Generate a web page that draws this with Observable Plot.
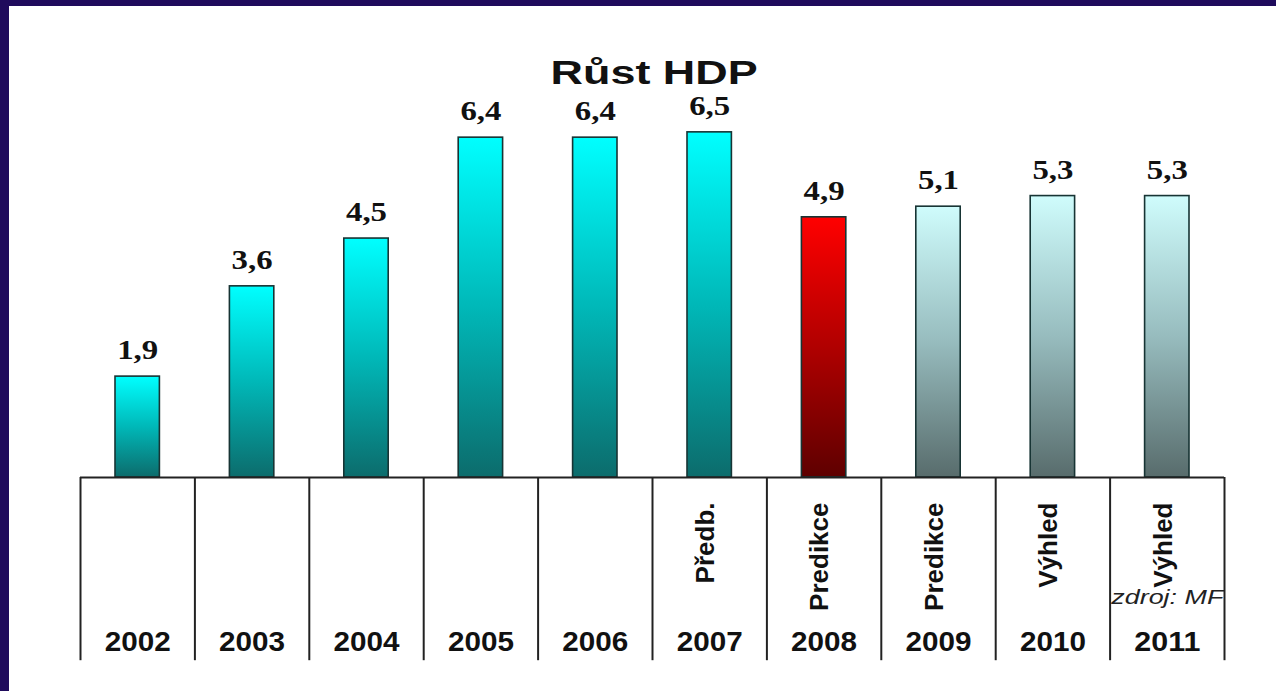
<!DOCTYPE html>
<html>
<head>
<meta charset="utf-8">
<script src="https://cdn.jsdelivr.net/npm/d3@7"></script>
<script src="https://cdn.jsdelivr.net/npm/@observablehq/plot@0.6"></script>
<style>
  html, body { margin: 0; padding: 0; }
  body { width: 1276px; height: 691px; background: #1f0b5c; overflow: hidden; position: relative; }
  #panel { position: absolute; left: 9px; top: 6px; width: 1267px; height: 685px; background: #ffffff; overflow: hidden; }
  #title { position: absolute; top: 50px; left: 0; width: 100%; box-sizing: border-box; padding-left: 24px;
           text-align: center; font: bold 33px "Liberation Sans", Arial, sans-serif; line-height: 33px; color: #111; }
  #title span { display: inline-block; transform: scaleX(1.36); }
  #chart { position: absolute; top: 90px; left: 0; }
</style>
</head>
<body>
<div id="panel">
  <div id="title"><span></span></div>
  <div id="chart"></div>
</div>
<script>
// ---- data ----
const chartTitle = "Růst HDP";
const sourceNote = "zdroj: MF";
const years = [2002, 2003, 2004, 2005, 2006, 2007, 2008, 2009, 2010, 2011];
const growth = [1.9, 3.6, 4.5, 6.4, 6.4, 6.5, 4.9, 5.1, 5.3, 5.3];
const status = ["", "", "", "", "", "Předb.", "Predikce", "Predikce", "Výhled", "Výhled"];
const barKind = ["actual", "actual", "actual", "actual", "actual", "actual", "prediction", "outlook", "outlook", "outlook"];

// gradient definitions (top colour, middle, bottom colour)
const gradients = {
  actual: ["#00ffff", "#00b8b8", "#0c6c6c"],
  prediction: ["#ff0000", "#b00000", "#5e0000"],
  outlook: ["#cffcfc", "#97bcbe", "#586c6c"]
};

const data = years.map((year, i) => ({
  year, value: growth[i], note: status[i], kind: barKind[i],
  label: growth[i].toFixed(1).replace(".", ",")
}));
const boundaries = [...years.map(y => y - 0.5), years[years.length - 1] + 0.5];
const tableBottom = -3.45;

document.querySelector("#title span").textContent = chartTitle;

const plot = Plot.plot({
  width: 1267,
  height: 595,
  marginTop: 9.3,
  marginBottom: 30.8,
  marginLeft: 71,
  marginRight: 52,
  x: { domain: [years[0] - 0.5, years[years.length - 1] + 0.5], axis: null },
  y: { domain: [tableBottom, 7], axis: null },
  color: { type: "identity" },
  style: { background: "transparent", overflow: "visible", fontFamily: "Liberation Sans, Arial, sans-serif" },
  marks: [
    Plot.rectY(data, {
      x1: d => d.year - 0.5, x2: d => d.year + 0.5, y1: 0, y2: "value",
      insetLeft: 35, insetRight: 35,
      fill: d => `url(#grad-${d.kind})`,
      stroke: "#173434", strokeWidth: 1.6
    }),
    Plot.ruleY([0], { stroke: "#222", strokeWidth: 2 }),
    Plot.ruleX(boundaries, { y1: 0, y2: tableBottom, stroke: "#222", strokeWidth: 2 }),
    Plot.text(data, {
      x: "year", y: "value", text: "label", dy: -26, lineAnchor: "middle",
      fontFamily: "Liberation Serif, Times New Roman, serif", fontWeight: "bold", fontSize: 27, fill: "#111"
    }),
    Plot.text(data, {
      x: "year", frameAnchor: "bottom", lineAnchor: "middle", text: d => String(d.year), dy: -18,
      fontFamily: "Liberation Sans, Arial, sans-serif", fontWeight: "bold", fontSize: 27, fill: "#111"
    }),
    Plot.text(data.filter(d => d.note), {
      x: "year", y: () => 0, text: "note", dy: 25, rotate: -90, textAnchor: "end", lineAnchor: "middle", dx: -4,
      fontFamily: "Liberation Sans, Arial, sans-serif", fontWeight: "bold", fontSize: 26, fill: "#111"
    }),
    Plot.text([sourceNote], {
      x: () => years[years.length - 1], y: () => 0, text: d => d, dy: 120, lineAnchor: "middle",
      fontFamily: "Liberation Sans, Arial, sans-serif", fontStyle: "italic", fontSize: 20, fill: "#222"
    })
  ]
});

// gradient defs
const defs = d3.select(plot).insert("defs", ":first-child");
for (const [kind, stops] of Object.entries(gradients)) {
  const g = defs.append("linearGradient").attr("id", `grad-${kind}`)
    .attr("x1", 0).attr("y1", 0).attr("x2", 0).attr("y2", 1);
  stops.forEach((c, i) => g.append("stop").attr("offset", i / (stops.length - 1)).attr("stop-color", c));
}

// text stretch to mimic the wide lettering of the original
const labelSet = new Set(data.map(d => d.label));
const yearSet = new Set(years.map(String));
d3.select(plot).selectAll("text").each(function () {
  const t = this.textContent;
  if (labelSet.has(t)) { this.setAttribute("textLength", 41); this.setAttribute("lengthAdjust", "spacingAndGlyphs"); }
  else if (yearSet.has(t)) { this.setAttribute("textLength", 66); this.setAttribute("lengthAdjust", "spacingAndGlyphs"); }
  else if (t === sourceNote) { this.setAttribute("textLength", 112); this.setAttribute("lengthAdjust", "spacingAndGlyphs"); }
});

document.getElementById("chart").append(plot);
</script>
</body>
</html>
